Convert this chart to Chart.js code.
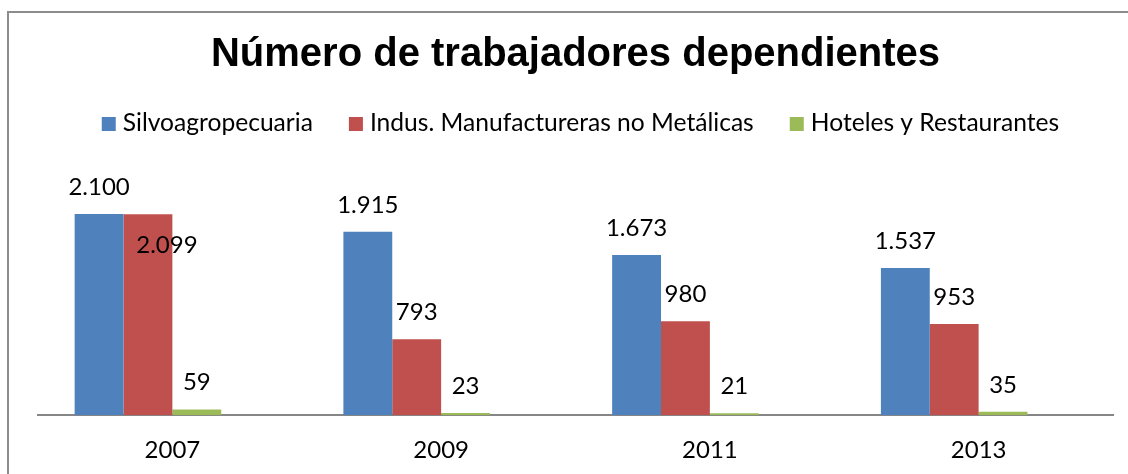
<!DOCTYPE html>
<html>
<head>
<meta charset="utf-8">
<script src="https://cdn.jsdelivr.net/npm/chart.js@4.4.1/dist/chart.umd.min.js"></script>
<style>
  html, body { margin: 0; padding: 0; background: #ffffff; overflow: hidden; }
  #wrap { width: 1128px; height: 474px; position: relative; overflow: hidden; }
  #c { display: block; }
</style>
</head>
<body>
<div id="wrap"><canvas id="c" width="1128" height="486"></canvas></div>
<script>
// ---- data ----
const chartTitle = 'Número de trabajadores dependientes';
const categories = ['2007', '2009', '2011', '2013'];
const seriesNames = ['Silvoagropecuaria', 'Indus. Manufactureras no Metálicas', 'Hoteles y Restaurantes'];
const silvoagropecuaria = [2100, 1915, 1673, 1537];
const industriasManufactureras = [2099, 793, 980, 953];
const hotelesRestaurantes = [59, 23, 21, 35];
const serieVacia = [null, null, null, null];
const seriesColors = ['#4F81BD', '#C0504D', '#9BBB59', '#8064A2'];

function fmt(v) {
  return String(v).replace(/\B(?=(\d{3})+(?!\d))/g, '.');
}

const bodyFont = 'Lato, "Open Sans", sans-serif';

const frame = {
  id: 'frame',
  beforeDraw(chart) {
    const ctx = chart.ctx;
    ctx.save();
    ctx.fillStyle = '#ffffff';
    ctx.fillRect(0, 0, chart.width, chart.height);
    ctx.fillStyle = '#8c8c8c';
    ctx.fillRect(7, 11, 2, chart.height);
    ctx.fillRect(7, 11, chart.width, 2);
    ctx.restore();
  },
  afterDraw(chart) {
    const ctx = chart.ctx;
    ctx.save();
    ctx.fillStyle = '#ffffff';
    ctx.fillRect(1115, 14, 13, chart.height);
    ctx.restore();
  }
};

// legend drawn as text on the canvas (Excel-like spacing)
const excelLegend = {
  id: 'excelLegend',
  afterDraw(chart) {
    const ctx = chart.ctx;
    const box = 14, gapText = 7, gapItem = 36, y = 123;
    ctx.save();
    ctx.font = '24.6px ' + bodyFont;
    ctx.textBaseline = 'middle';
    ctx.textAlign = 'left';
    const widths = seriesNames.map(n => ctx.measureText(n).width);
    let total = 0;
    widths.forEach((w, i) => { total += box + gapText + w + (i < widths.length - 1 ? gapItem : 0); });
    const ca = chart.chartArea;
    let x = (ca.left + ca.right) / 2 - total / 2 + 5;
    seriesNames.forEach((n, i) => {
      ctx.fillStyle = seriesColors[i];
      ctx.fillRect(x, y - box / 2 + 1, box, box);
      ctx.fillStyle = '#000000';
      ctx.fillText(n, x + box + gapText, y);
      x += box + gapText + widths[i] + gapItem;
    });
    ctx.restore();
  }
};

const valueLabels = {
  id: 'valueLabels',
  afterDatasetsDraw(chart) {
    const ctx = chart.ctx;
    ctx.save();
    ctx.font = '24px ' + bodyFont;
    ctx.fillStyle = '#000000';
    ctx.textAlign = 'center';
    ctx.textBaseline = 'middle';
    const placed = [];
    for (let d = 0; d < 3; d++) {
      const meta = chart.getDatasetMeta(d);
      const data = chart.data.datasets[d].data;
      meta.data.forEach((bar, i) => {
        const v = data[i];
        if (v === null || v === undefined) return;
        const txt = fmt(v);
        const w = ctx.measureText(txt).width;
        const h = 24;
        let x = bar.x;
        let y = bar.y - 27;
        let b = {l: x - w / 2, r: x + w / 2, t: y - h / 2, b: y + h / 2};
        const hit = placed.some(p => !(b.r < p.l || b.l > p.r || b.b < p.t || b.t > p.b));
        if (hit) {
          x = bar.x + 19;
          y = bar.y + 31;
          b = {l: x - w / 2, r: x + w / 2, t: y - h / 2, b: y + h / 2};
        }
        placed.push(b);
        ctx.fillText(txt, x, y);
      });
    }
    ctx.restore();
  }
};

const seriesData = [silvoagropecuaria, industriasManufactureras, hotelesRestaurantes, serieVacia];
const datasets = seriesData.map((arr, k) => ({
  label: k < 3 ? seriesNames[k] : '',
  data: arr,
  backgroundColor: seriesColors[k],
  borderWidth: 0,
  categoryPercentage: 4 / 5.5,
  barPercentage: 1.0
}));

new Chart(document.getElementById('c'), {
  type: 'bar',
  data: { labels: categories, datasets: datasets },
  options: {
    responsive: false,
    animation: false,
    devicePixelRatio: 1,
    layout: { padding: { left: 38, right: 15, top: 0, bottom: 0 } },
    plugins: {
      tooltip: { enabled: false },
      legend: { display: false },
      title: {
        display: true,
        text: chartTitle,
        color: '#000000',
        font: { family: '"Liberation Sans", Arial, sans-serif', size: 40, weight: 'bold', lineHeight: 1.0 },
        padding: { top: 35, bottom: 72 }
      }
    },
    scales: {
      x: {
        grid: { display: false, drawTicks: false },
        border: { display: true, color: '#868686', width: 2 },
        ticks: { color: '#000000', font: { family: bodyFont, size: 24 }, padding: 21 }
      },
      y: {
        display: false,
        min: 0,
        max: 2800
      }
    }
  },
  plugins: [frame, excelLegend, valueLabels]
});
</script>
</body>
</html>
